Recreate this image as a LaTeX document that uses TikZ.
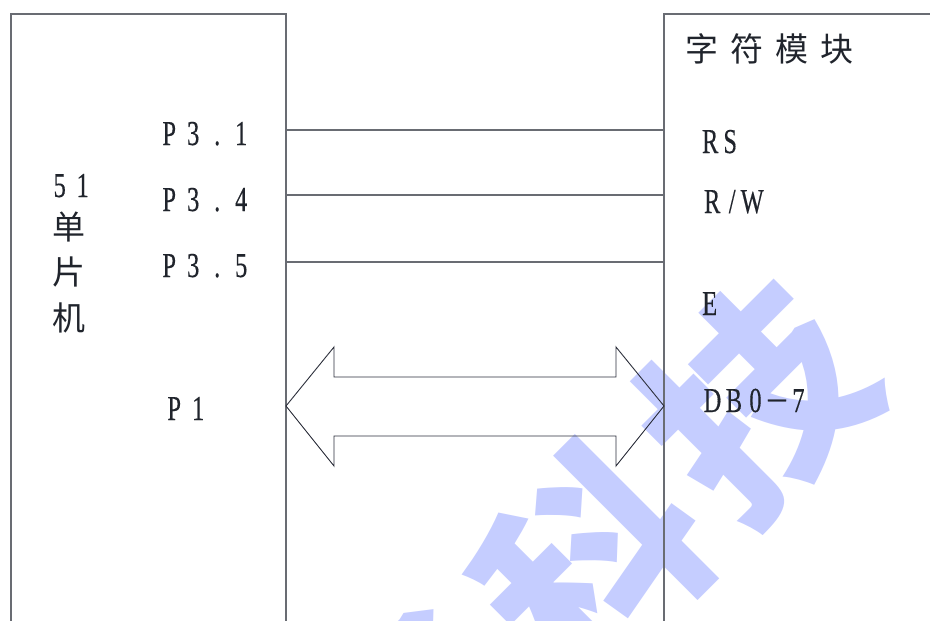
\documentclass[tikz,border=0pt]{standalone}
\usepackage{fontspec}
\usepackage{graphicx}
\setmainfont{Liberation Serif}[FakeBold=0.4]
\newfontfamily\cjk{Noto Sans CJK SC}
\usetikzlibrary{calc}
\definecolor{txt}{RGB}{32,36,44}
\definecolor{ln}{RGB}{105,108,115}
\definecolor{arr}{RGB}{45,48,60}
\definecolor{wm}{RGB}{197,205,255}
\makeatletter
\newcommand\spaced[2]{\@tfor\sp@ch:=#2\do{\makebox[#1][c]{\scalebox{0.7}[1]{\sp@ch}}}}
\newcommand\cjkspaced[2]{\@tfor\sp@ch:=#2\do{\makebox[#1][c]{\sp@ch}}}
\makeatother
\begin{document}
\begin{tikzpicture}[x=1pt,y=-1pt,
  lbl/.style={anchor=base west, inner sep=0, text=txt, font=\fontsize{35}{35}\selectfont},
  han/.style={inner sep=0, text=txt, font=\cjk\fontsize{33}{33}\selectfont},
  blockbox/.style={draw=ln, line width=1.2pt, inner sep=0, outer sep=0, anchor=north west, minimum height=700pt},
  conn/.style={draw=ln, line width=1.1pt},
  arrst/.style={draw=arr, line width=0.9pt},
  wmark/.style={rotate=45, inner sep=0, text=wm, font=\cjk\bfseries\fontsize{215}{215}\selectfont}]
\useasboundingbox (0,0) rectangle (930,621);
\clip (0,0) rectangle (930,621);
\fill[white] (0,0) rectangle (930,621);
% watermark
\node[wmark] (wm1) at (429,726) {子};
\node[wmark] (wm2) at (592,563) {科};
\node[wmark] (wm3) at (757,400) {技};
% blocks
\node[blockbox, minimum width=275pt] (mcu) at (11,14) {};
\node[blockbox, minimum width=400pt] (lcd) at (664,14) {};
% connectors
\coordinate (y1) at (0,130);
\coordinate (y2) at (0,195);
\coordinate (y3) at (0,262);
\coordinate (ya) at (0,406);
\draw[conn] (mcu.east |- y1) -- (lcd.west |- y1);
\draw[conn] (mcu.east |- y2) -- (lcd.west |- y2);
\draw[conn] (mcu.east |- y3) -- (lcd.west |- y3);
\coordinate (lt) at (mcu.east |- ya);
\coordinate (rt) at (lcd.west |- ya);
\draw[arrst] (lt) -- ($(lt)+(48,-59)$) -- ($(lt)+(48,-29)$) -- ($(rt)+(-48,-29)$)
  -- ($(rt)+(-48,-59)$) -- (rt) -- ($(rt)+(-48,60)$) -- ($(rt)+(-48,30)$)
  -- ($(lt)+(48,30)$) -- ($(lt)+(48,60)$) -- cycle;
% labels left
\node[lbl] (p31) at (157,145) {\spaced{24pt}{P3.1}};
\node[lbl] (p34) at (157,211) {\spaced{24pt}{P3.4}};
\node[lbl] (p35) at (157,277) {\spaced{24pt}{P3.5}};
\node[lbl] (p1) at (162,420) {\spaced{24pt}{P1}};
\node[lbl] (n51) at (48,197) {\spaced{23pt}{51}};
\node[han] (c1) at (68.5,227.5) {单};
\node[han] (c2) at (68.5,272.5) {片};
\node[han] (c3) at (68.5,317.5) {机};
% labels right
\node[han, anchor=west] (title) at (679.5,49) {\cjkspaced{45pt}{字符模块}};
\node[lbl] (rs) at (700,153) {\spaced{20pt}{RS}};
\node[lbl] (rw) at (702,213) {\spaced{20pt}{R/W}};
\node[lbl] (e) at (699.5,315) {\spaced{20pt}{E}};
\node[lbl] (db) at (701.5,412) {\spaced{21.5pt}{DB0{\scalebox{1.6}[1]{−}}7}};
\end{tikzpicture}
\end{document}
